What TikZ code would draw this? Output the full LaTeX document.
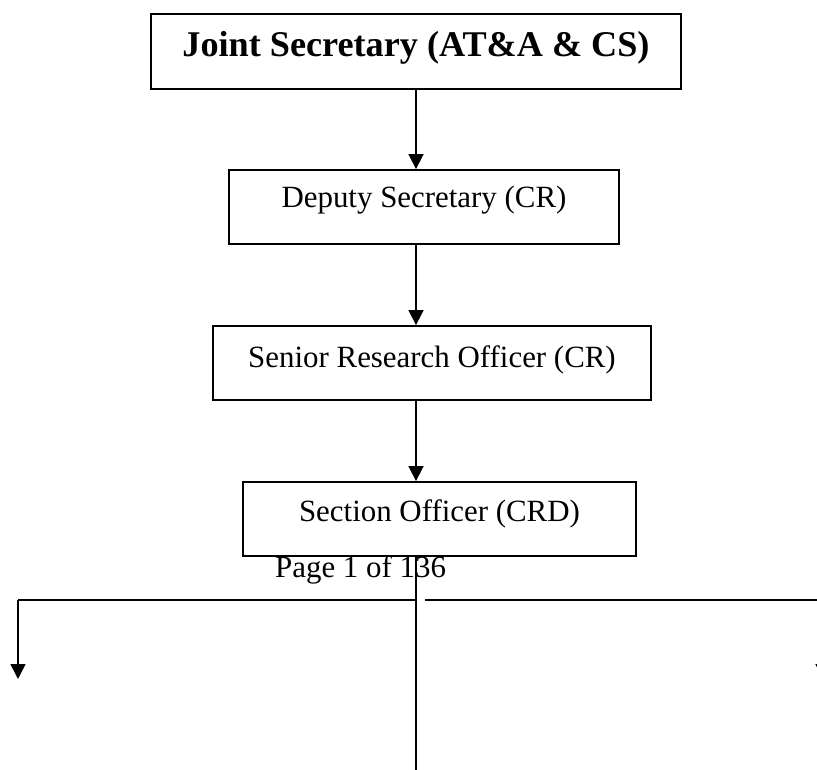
\documentclass[tikz,border=0pt]{standalone}
\usepackage{fontspec}
\setmainfont{Liberation Serif}
\usetikzlibrary{arrows.meta}
\begin{document}
\begin{tikzpicture}[x=1pt,y=-1pt,
  box/.style={draw=black,line width=1.8pt,rectangle,inner sep=0pt,fill=none},
  lbl/.style={inner sep=0pt,anchor=base,font=\fontsize{30.9}{36}\selectfont},
  blbl/.style={inner sep=0pt,anchor=base,font=\fontsize{36.2}{42}\selectfont\bfseries},
  conn/.style={draw=black,line width=1.6pt},
  arr/.style={conn,-{Triangle[width=15pt,length=15pt]}}]
\useasboundingbox (0,0) rectangle (817,770);
% boxes
\node[box,minimum width=530pt,minimum height=75pt] (js) at (416,51.5) {};
\node[box,minimum width=390pt,minimum height=74pt] (dep) at (424,207) {};
\node[box,minimum width=438pt,minimum height=74pt] (sro) at (432,363) {};
\node[box,minimum width=393pt,minimum height=74pt] (so) at (439.5,519) {};
% texts
\node[blbl] (tjs) at (416,57) {Joint Secretary (AT\&A \& CS)};
\node[lbl] (tdep) at (424,208) {Deputy Secretary (CR)};
\node[lbl] (tsro) at (432,367) {Senior Research Officer (CR)};
\node[lbl] (tso) at (439.5,521) {Section Officer (CRD)};
\node[lbl,anchor=base west] (page) at (275,577) {Page 1 of 136};
% connectors
\draw[arr] (js.south) -- (js.south |- dep.north);
\draw[arr] (js.south |- dep.south) -- (js.south |- sro.north);
\draw[arr] (js.south |- sro.south) -- (js.south |- so.north);
\coordinate (btm) at (416,770);
\coordinate (bm) at (416,600);
\coordinate (bl) at (18,600);
\coordinate (la) at (18,679);
\coordinate (br0) at (425,600);
\coordinate (br) at (823,600);
\coordinate (ra) at (823,679);
\draw[conn] (btm |- so.south) -- (btm);
\draw[conn,line width=1.8pt] (bm) -- (bl);
\draw[arr] (bl) -- (la);
\draw[conn,line width=1.8pt] (br0) -- (br);
\draw[arr] (br) -- (ra);
\end{tikzpicture}
\end{document}
